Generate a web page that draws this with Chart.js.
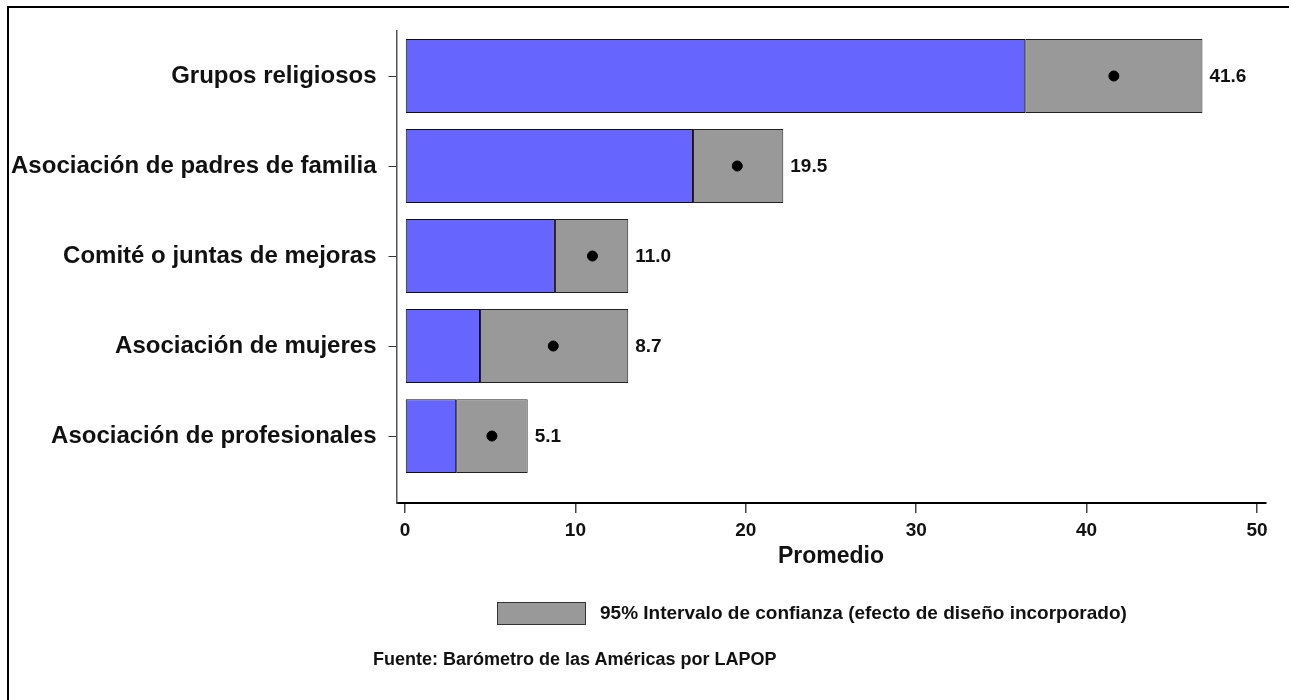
<!DOCTYPE html>
<html>
<head>
<meta charset="utf-8">
<script src="https://cdn.jsdelivr.net/npm/chart.js@4/dist/chart.umd.min.js"></script>
<style>
  html, body { margin: 0; padding: 0; background: #fff; overflow: hidden; }
  body { width: 1289px; height: 700px; position: relative; font-family: "Liberation Sans", Arial, sans-serif; }
  #frame { position: absolute; left: 7px; top: 6px; width: 1400px; height: 800px; border: 2px solid #000; }
  #wrap { position: absolute; left: 0; top: 0; width: 1289px; height: 700px; }
  .legend { position: absolute; left: 497px; top: 601px; height: 24px; display: flex; align-items: center; font-weight: bold; font-size: 19px; color: #111; }
  .legend .box { width: 87px; height: 21px; background: #999999; border: 1px solid #333; margin-right: 14px; }
  .source { position: absolute; left: 373px; top: 649px; font-weight: bold; font-size: 18px; color: #111; }
</style>
</head>
<body>
<div id="frame"></div>
<div id="wrap"><canvas id="chart" width="1289" height="700"></canvas></div>
<div class="legend"><span class="box"></span><span>95% Intervalo de confianza (efecto de diseño incorporado)</span></div>
<div class="source">Fuente: Barómetro de las Américas por LAPOP</div>
<script>
var categories = ['Grupos religiosos', 'Asociación de padres de familia', 'Comité o juntas de mejoras', 'Asociación de mujeres', 'Asociación de profesionales'];
var means = [41.6, 19.5, 11.0, 8.7, 5.1];
var ciLow = [36.4, 16.9, 8.8, 4.4, 3.0];
var ciHigh = [46.8, 22.2, 13.1, 13.1, 7.2];
var xTicks = [0, 10, 20, 30, 40, 50];

var FONT = '"Liberation Sans", Arial, sans-serif';

var blueBars = categories.map((c, i) => ({ x: [0, ciLow[i]], y: i }));
var grayBars = categories.map((c, i) => ({ x: [ciLow[i], ciHigh[i]], y: i }));
var dots = categories.map((c, i) => ({ x: means[i], y: i }));

// value labels to the right of the CI bar
const valueLabels = {
  id: 'valueLabels',
  afterDatasetsDraw(chart) {
    const ctx = chart.ctx;
    const meta = chart.getDatasetMeta(2);
    ctx.save();
    ctx.font = 'bold 19px ' + FONT;
    ctx.fillStyle = '#111';
    ctx.textAlign = 'left';
    ctx.textBaseline = 'middle';
    meta.data.forEach((bar, i) => {
      ctx.fillText(means[i].toFixed(1), bar.x + 7, bar.y + 1);
    });
    ctx.restore();
  }
};

new Chart(document.getElementById('chart'), {
  type: 'bar',
  data: {
    datasets: [
      {
        type: 'line',
        label: 'Promedio',
        data: dots,
        showLine: false,
        pointRadius: 5,
        pointBackgroundColor: '#000',
        pointBorderColor: '#000',
        order: 0
      },
      {
        label: 'base',
        data: blueBars,
        backgroundColor: '#6666ff',
        borderColor: '#111',
        borderWidth: 1,
        borderSkipped: false,
        grouped: false,
        order: 2
      },
      {
        label: '95% Intervalo de confianza (efecto de diseño incorporado)',
        data: grayBars,
        backgroundColor: '#999999',
        borderColor: '#222',
        borderWidth: 1,
        borderSkipped: false,
        grouped: false,
        order: 1
      }
    ]
  },
  options: {
    indexAxis: 'y',
    responsive: false,
    animation: false,
    barPercentage: 0.82,
    categoryPercentage: 1,
    layout: { padding: { left: 0, right: 23.5, top: 31, bottom: 130 } },
    plugins: {
      legend: { display: false },
      tooltip: { enabled: false }
    },
    scales: {
      x: {
        type: 'linear',
        min: -0.5,
        max: 50.5,
        offset: false,
        afterBuildTicks: s => { s.ticks = xTicks.map(v => ({ value: v })); },
        afterFit: s => { s.height = 67; },
        border: { display: true, color: '#000', width: 2 },
        grid: { offset: false, drawOnChartArea: false, drawTicks: true, tickLength: 10, color: '#444', lineWidth: 1.5 },
        ticks: { padding: 6, color: '#111', font: { family: FONT, size: 19, weight: 'bold' } },
        title: { display: true, text: 'Promedio', color: '#111', padding: 0, font: { family: FONT, size: 23, weight: 'bold' } }
      },
      y: {
        type: 'linear',
        reverse: true,
        min: -0.5,
        max: 4.744,
        offset: false,
        afterBuildTicks: s => { s.ticks = categories.map((c, i) => ({ value: i })); },
        afterFit: s => { s.width = 396.5; },
        border: { display: true, color: '#555', width: 1.5 },
        grid: { offset: false, drawOnChartArea: false, drawTicks: true, tickLength: 8, color: '#333', lineWidth: 1 },
        ticks: {
          padding: 12,
          color: '#111',
          font: { family: FONT, size: 24, weight: 'bold' },
          callback: v => categories[v]
        }
      }
    }
  },
  plugins: [valueLabels]
});
</script>
</body>
</html>
